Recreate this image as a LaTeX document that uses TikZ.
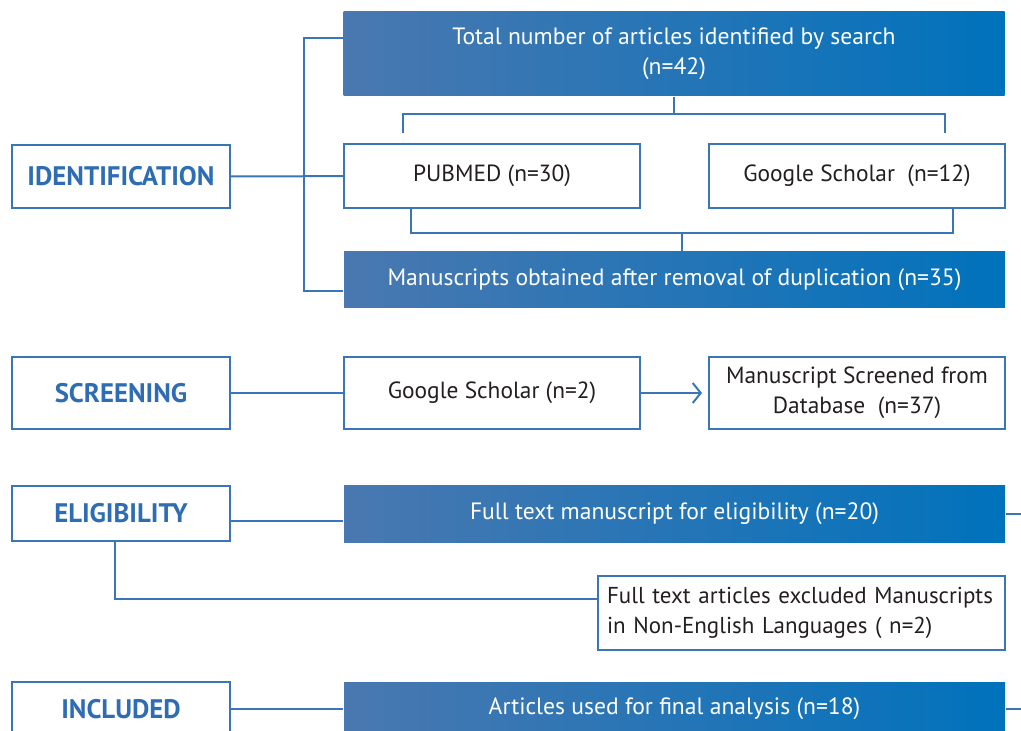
\documentclass[tikz,border=0pt]{standalone}
\usepackage{fontspec}
\setmainfont{PT Sans}
\usepackage{tikz}
\usetikzlibrary{arrows.meta}
\definecolor{lineblue}{RGB}{58,118,181}
\definecolor{bandleft}{RGB}{74,120,176}
\definecolor{bandright}{RGB}{0,114,188}
\definecolor{labelblue}{RGB}{46,109,180}
\definecolor{textdark}{RGB}{35,31,32}

\begin{document}
\begin{tikzpicture}[x=0.5pt, y=-0.5pt, line width=1pt,
  stage/.style = {draw=lineblue, fill=white, inner sep=0pt, minimum width=109pt, text=labelblue, font=\fontsize{13.4}{15}\selectfont\bfseries},
  plain/.style = {draw=lineblue, fill=white, inner sep=0pt, minimum width=148pt, minimum height=36pt, text=textdark, font=\fontsize{11.7}{15}\selectfont, align=center},
  band/.style = {left color=bandleft, right color=bandright, inner sep=0pt, minimum width=330.5pt, text=white, font=\fontsize{11.8}{15}\selectfont, align=center},
  link/.style = {draw=lineblue}]
\useasboundingbox (0,0) rectangle (1021,731);
\clip (0,0) rectangle (1021,731);

% identification
\node[band] (total) at (674,54) [minimum height=42pt] {Total number of articles identified by search\\(n=42)};
\node[plain] (pubmed) at (492,176) [minimum height=32pt] {PUBMED (n=30)};
\node[plain] (gsch) at (857,176) [minimum height=32pt] {Google Scholar\ \ (n=12)};
\node[band] (dedup) at (674.5,280) [minimum height=28pt] {Manuscripts obtained after removal of duplication (n=35)};
\node[stage] (ident) at (121,176.5) [minimum height=31.5pt] {IDENTIFICATION};

% screening
\node[stage] (screen) at (121,393) [minimum height=36pt] {SCREENING};
\node[plain] (gs2) at (492,393) {Google Scholar (n=2)};
\node[plain] (screened) at (857,393) {Manuscript Screened from\\Database\ \ (n=37)};

% eligibility
\node[stage] (elig) at (121,513.5) [minimum height=27.5pt] {ELIGIBILITY};
\node[band] (fulltext) at (674.5,513.5) [minimum height=28.5pt] {Full text manuscript for eligibility (n=20)};
\node[plain] (excl) at (801.5,613) [minimum width=203.5pt, minimum height=37pt, inner xsep=4.5pt, text width=194.5pt, align=left, font=\fontsize{11.5}{15}\selectfont] {Full text articles excluded Manuscripts\\in Non-English Languages ( n=2)};

% included
\node[stage] (incl) at (121,709) [minimum height=27pt] {INCLUDED};
\node[band] (final) at (674.5,709) [minimum height=27pt] {Articles used for final analysis (n=18)};

\coordinate (spine) at (304,176);
\coordinate (split) at (674,114);
\coordinate (tl) at (403,133);
\coordinate (tr) at (945,133);
\coordinate (merge) at (682,233);
\coordinate (edge) at (1025,0);

\draw[link] ([yshift=8pt]total.west) -| (spine) |- ([yshift=-5.5pt]dedup.west);
\draw[link] (ident) -- (pubmed);
\draw[link] (total.south) -- (split);
\draw[link] (tl) |- (split) -| (tr);
\draw[link] ([xshift=-40.5pt]pubmed.south) |- (merge) -| ([xshift=48pt]gsch.south);
\draw[link] (merge) -- (merge |- dedup.north);

\draw[link] (screen) -- (gs2);
\draw[link, -{Straight Barb[length=4pt,width=10pt]}, shorten >=3pt] (gs2) -- (screened);

\draw[link] ([yshift=-3.5pt]elig.east) -- ([yshift=-3.5pt]fulltext.west);
\draw[link] (fulltext.east) -- (fulltext.east -| edge);
\draw[link] ([xshift=-3pt]elig.south) |- ([yshift=7pt]excl.west);

\draw[link] (incl) -- (final);
\draw[link] (final.east) -- (final.east -| edge);
\end{tikzpicture}
\end{document}
